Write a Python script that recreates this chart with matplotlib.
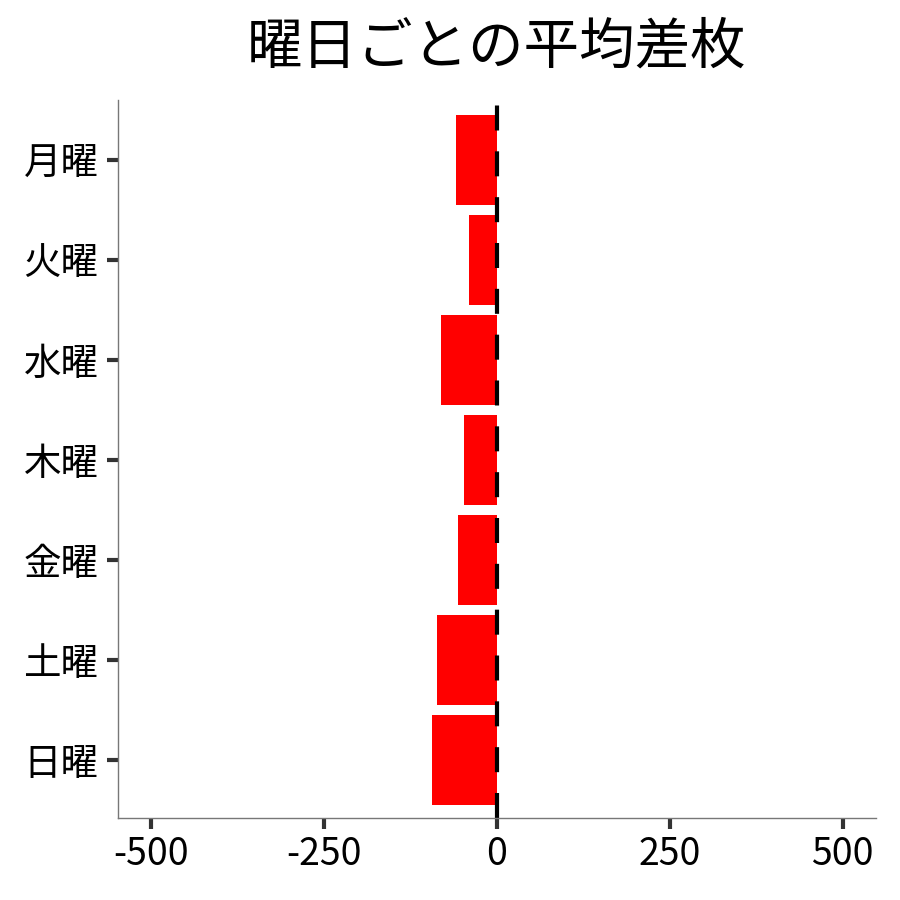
import matplotlib
matplotlib.use("Agg")
import matplotlib.pyplot as plt

plt.rcParams['font.family'] = ['Noto Sans CJK JP', 'DejaVu Sans']

days = ['月曜', '火曜', '水曜', '木曜', '金曜', '土曜', '日曜']
avg_diff = [-59, -40, -80, -48, -56, -87, -94]
xticks = [-500, -250, 0, 250, 500]
xtick_labels = ['-500', '-250', '0', '250', '500']

fig = plt.figure(figsize=(9, 9), dpi=100)
ax = fig.add_axes([0.131, 0.091, 0.842, 0.798])

ax.barh(days, avg_diff, height=0.9, color='#ff0000')
ax.axvline(0, color='black', linestyle=(0, (6, 5)), linewidth=3)

ax.set_xlim(-548, 548)
ax.set_ylim(6.58, -0.6)
ax.set_xticks(xticks)
ax.set_xticklabels(xtick_labels)

for s in ['top', 'right']:
    ax.spines[s].set_visible(False)
for s in ['left', 'bottom']:
    ax.spines[s].set_color('#777777')
    ax.spines[s].set_linewidth(1)

ax.tick_params(axis='both', colors='#333333', width=3, length=8,
               labelsize=27, labelcolor='black')
ax.tick_params(axis='x', pad=4)
ax.tick_params(axis='y', pad=6)

ax.set_title('曜日ごとの平均差枚', fontsize=40, pad=26)

fig.savefig('out.png', dpi=100)
